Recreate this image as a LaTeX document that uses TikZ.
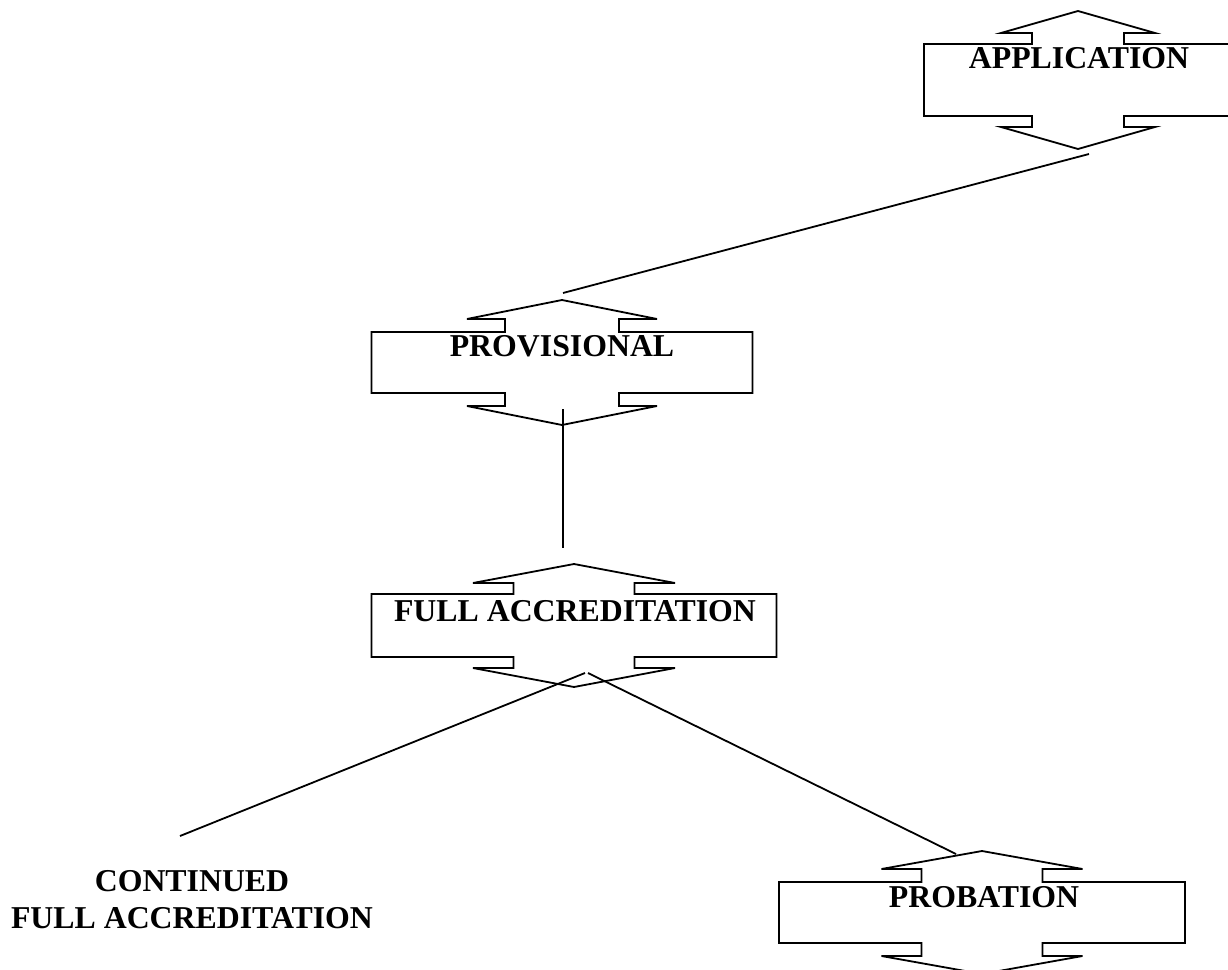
\documentclass[tikz,border=0pt]{standalone}
\usepackage{fontspec}
\setmainfont{Liberation Serif}
\usepackage{tikz}
\usetikzlibrary{calc}
\def\lw{0.9pt}
% up-down callout: cx, apex y, head h, neck h, rect h, head half, shaft half, rect half
\newcommand{\udbox}[8]{%
  \begin{scope}[shift={(#1,#2)}]
    \draw[line width=\lw] (0,0) -- (#6,#3) -- (#7,#3) -- (#7,#3+#4) -- (#8,#3+#4)
      -- (#8,#3+#4+#5) -- (#7,#3+#4+#5) -- (#7,#3+2*#4+#5) -- (#6,#3+2*#4+#5)
      -- (0,2*#3+2*#4+#5) -- (-#6,#3+2*#4+#5) -- (-#7,#3+2*#4+#5) -- (-#7,#3+#4+#5)
      -- (-#8,#3+#4+#5) -- (-#8,#3+#4) -- (-#7,#3+#4) -- (-#7,#3) -- (-#6,#3) -- cycle;
  \end{scope}}

\begin{document}
\begin{tikzpicture}[x=0.5pt, y=-0.5pt,
    lbl/.style={anchor=base, inner sep=0pt, font=\fontsize{15.9}{18}\selectfont\bfseries}]
  \useasboundingbox (0,0) rectangle (1228,970);

  \udbox{1078}{11}{22}{11}{72}{77}{46}{154}
  \udbox{562}{300}{19}{13}{61}{95}{57}{190.5}
  \udbox{574}{564}{19}{11}{63}{101}{60.5}{202.5}
  \udbox{982}{851}{18}{13}{61}{100.5}{60.5}{203}

  \node[lbl] (app) at (1079,68) {APPLICATION};
  \node[lbl] (prov) at (562,356) {PROVISIONAL};
  \node[lbl] (full) at (575,621) {FULL ACCREDITATION};
  \node[lbl] (prob) at (984,907) {PROBATION};
  \node[lbl] (cont1) at (192,891) {CONTINUED};
  \node[lbl] (cont2) at (192,928) {FULL ACCREDITATION};

  \coordinate (app-out) at (1089,154);
  \coordinate (prov-in) at (563,293);
  \coordinate (prov-out) at (563,409);
  \coordinate (full-in) at (563,548);
  \coordinate (full-outl) at (585,673);
  \coordinate (full-outr) at (588,673);
  \coordinate (cont-in) at (180,836);
  \coordinate (prob-in) at (956,854);

  \draw[line width=\lw] (app-out) -- (prov-in);
  \draw[line width=\lw] (prov-out) -- (full-in);
  \draw[line width=\lw] (full-outl) -- (cont-in);
  \draw[line width=\lw] (full-outr) -- (prob-in);
\end{tikzpicture}
\end{document}
